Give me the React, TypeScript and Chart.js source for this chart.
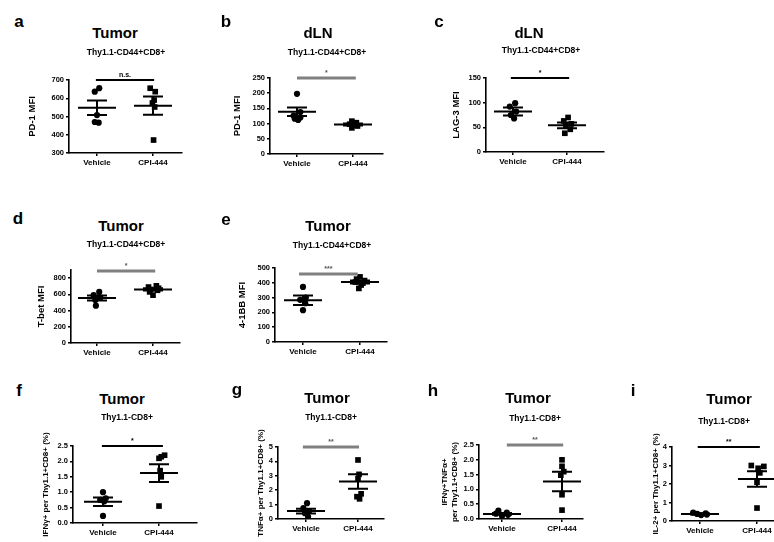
import React, { useEffect, useRef } from 'react';
import { Chart, registerables } from 'chart.js';

Chart.register(...registerables);
Chart.defaults.font.family = '"Liberation Sans", Arial, sans-serif';

const groups = ['Vehicle', 'CPI-444'];

// ---- a: Tumor PD-1 MFI
const aVehicle = [655, 636, 508, 470, 466];
const aVehicleJitter = [0.04, -0.04, 0, -0.04, 0.03];
const aCpi = [655, 636, 590, 574, 552, 371];
const aCpiJitter = [-0.05, 0.04, 0.02, -0.01, 0.03, 0.01];
const aMean = [548, 559];
const aSem = [40, 50];
const aYTicks = [300, 400, 500, 600, 700];

// ---- b: dLN PD-1 MFI
const bVehicle = [198, 138, 126, 120, 116, 112];
const bVehicleJitter = [0, 0.06, -0.06, 0.06, -0.04, 0.02];
const bCpi = [108, 103, 98, 95, 92, 86];
const bCpiJitter = [-0.02, 0.06, -0.06, 0.04, 0.08, -0.02];
const bMean = [139, 97];
const bSem = [14, 3.5];
const bYTicks = [0, 50, 100, 150, 200, 250];

// ---- c: dLN LAG-3 MFI
const cVehicle = [99, 92, 82, 75, 68];
const cVehicleJitter = [0.04, -0.06, 0.06, -0.04, 0.02];
const cCpi = [70, 63, 57, 53, 46, 38];
const cCpiJitter = [0.02, -0.06, 0.08, -0.02, 0.06, -0.04];
const cMean = [82, 54];
const cSem = [8, 6];
const cYTicks = [0, 50, 100, 150];

// ---- d: Tumor T-bet MFI
const dVehicle = [630, 590, 560, 530, 460];
const dVehicleJitter = [0.04, -0.06, 0.06, -0.03, -0.02];
const dCpi = [705, 690, 675, 660, 650, 630, 590];
const dCpiJitter = [0.06, -0.08, 0.1, -0.04, 0.08, -0.06, 0];
const dMean = [555, 660];
const dSem = [32, 14];
const dYTicks = [0, 200, 400, 600, 800];

// ---- e: Tumor 4-1BB MFI
const eVehicle = [372, 300, 285, 262, 215];
const eVehicleJitter = [0, 0.05, -0.05, 0.04, 0];
const eCpi = [440, 425, 415, 405, 398, 385, 362];
const eCpiJitter = [0, -0.06, 0.08, -0.08, 0.05, 0.02, -0.02];
const eMean = [282, 405];
const eSem = [32, 10];
const eYTicks = [0, 100, 200, 300, 400, 500];

// ---- f: Tumor IFNg+ %
const fVehicle = [1.0, 0.8, 0.75, 0.7, 0.23];
const fVehicleJitter = [0, 0.05, -0.05, 0.02, 0];
const fCpi = [2.2, 2.15, 2.1, 1.7, 1.5, 0.55];
const fCpiJitter = [0.1, 0.04, 0, 0.02, 0.04, 0];
const fMean = [0.69, 1.62];
const fSem = [0.14, 0.29];
const fYTicks = [0, 0.5, 1.0, 1.5, 2.0, 2.5];

// ---- g: Tumor TNFa+ %
const gVehicle = [1.1, 0.75, 0.55, 0.4, 0.15];
const gVehicleJitter = [0.02, -0.05, 0.06, -0.02, 0.04];
const gCpi = [4.1, 3.1, 2.8, 1.75, 1.55, 1.4];
const gCpiJitter = [0, 0.02, 0, 0.06, -0.02, 0.03];
const gMean = [0.55, 2.6];
const gSem = [0.17, 0.5];
const gYTicks = [0, 1, 2, 3, 4, 5];

// ---- h: Tumor IFNg+TNFa+ %
const hVehicle = [0.28, 0.22, 0.18, 0.14, 0.1];
const hVehicleJitter = [-0.06, 0.08, -0.1, 0.1, 0];
const hCpi = [2.0, 1.78, 1.6, 1.48, 0.82, 0.3];
const hCpiJitter = [0, 0, 0.03, -0.02, 0, 0];
const hMean = [0.17, 1.27];
const hSem = [0.03, 0.33];
const hYTicks = [0, 0.5, 1.0, 1.5, 2.0, 2.5];

// ---- i: Tumor IL-2+ %
const iVehicle = [0.45, 0.42, 0.38, 0.35, 0.32];
const iVehicleJitter = [-0.12, 0.1, -0.05, 0.12, 0.02];
const iCpi = [3.0, 2.95, 2.85, 2.6, 2.1, 0.7];
const iCpiJitter = [-0.1, 0.12, 0.02, 0.05, 0, 0];
const iMean = [0.38, 2.27];
const iSem = [0.03, 0.42];
const iYTicks = [0, 1, 2, 3, 4];

const BLACK = '#000000';
const GRAY = '#808080';

type Panel = {
  letter: string; title: string; subtitle: string; yTitle: string | string[]; yTitleSize: number;
  veh: number[]; vehJ: number[]; cpi: number[]; cpiJ: number[];
  mean: number[]; sem: number[]; yTicks: number[]; yMin: number; yMax: number; dec: number;
  sig: string; sigY: number; sigColor: string; sigX: [number, number];
  plot: { l: number; t: number; r: number; b: number }; vehX: number; cpiX: number;
  yTitleX: number; titleX: number; titleY: number; subX: number; subY: number; letterX: number; letterY: number;
};

const SUB1 = 'Thy1.1-CD44+CD8+';
const SUB2 = 'Thy1.1-CD8+';

const panels: Panel[] = [
  { letter: 'a', title: 'Tumor', subtitle: SUB1, yTitle: 'PD-1 MFI', yTitleSize: 9.5, veh: aVehicle, vehJ: aVehicleJitter, cpi: aCpi, cpiJ: aCpiJitter, mean: aMean, sem: aSem, yTicks: aYTicks, yMin: 300, yMax: 700, dec: 0,
    sig: 'n.s.', sigY: 700, sigColor: BLACK, sigX: [0.98, 2.02], plot: { l: 69, t: 80, r: 182, b: 153 }, vehX: 97, cpiX: 153,
    yTitleX: 33, titleX: 115, titleY: 32, subX: 126, subY: 52, letterX: 19, letterY: 21 },
  { letter: 'b', title: 'dLN', subtitle: SUB1, yTitle: 'PD-1 MFI', yTitleSize: 9.5, veh: bVehicle, vehJ: bVehicleJitter, cpi: bCpi, cpiJ: bCpiJitter, mean: bMean, sem: bSem, yTicks: bYTicks, yMin: 0, yMax: 250, dec: 0,
    sig: '*', sigY: 250, sigColor: GRAY, sigX: [1.0, 2.05], plot: { l: 270, t: 78, r: 383, b: 154 }, vehX: 297, cpiX: 353,
    yTitleX: 238, titleX: 318, titleY: 32, subX: 327, subY: 52, letterX: 226, letterY: 21 },
  { letter: 'c', title: 'dLN', subtitle: SUB1, yTitle: 'LAG-3 MFI', yTitleSize: 9.5, veh: cVehicle, vehJ: cVehicleJitter, cpi: cCpi, cpiJ: cCpiJitter, mean: cMean, sem: cSem, yTicks: cYTicks, yMin: 0, yMax: 150, dec: 0,
    sig: '*', sigY: 150, sigColor: BLACK, sigX: [0.96, 2.04], plot: { l: 486, t: 78, r: 604, b: 152 }, vehX: 513, cpiX: 567,
    yTitleX: 457, titleX: 529, titleY: 32, subX: 541, subY: 50, letterX: 439, letterY: 21 },
  { letter: 'd', title: 'Tumor', subtitle: SUB1, yTitle: 'T-bet MFI', yTitleSize: 9.5, veh: dVehicle, vehJ: dVehicleJitter, cpi: dCpi, cpiJ: dCpiJitter, mean: dMean, sem: dSem, yTicks: dYTicks, yMin: 0, yMax: 900, dec: 0,
    sig: '*', sigY: 888, sigColor: GRAY, sigX: [1.0, 2.04], plot: { l: 71, t: 270, r: 180, b: 343 }, vehX: 97, cpiX: 153,
    yTitleX: 42, titleX: 121, titleY: 225, subX: 126, subY: 244, letterX: 18, letterY: 218 },
  { letter: 'e', title: 'Tumor', subtitle: SUB1, yTitle: '4-1BB MFI', yTitleSize: 9.5, veh: eVehicle, vehJ: eVehicleJitter, cpi: eCpi, cpiJ: eCpiJitter, mean: eMean, sem: eSem, yTicks: eYTicks, yMin: 0, yMax: 500, dec: 0,
    sig: '***', sigY: 459, sigColor: GRAY, sigX: [0.93, 1.96], plot: { l: 275, t: 268, r: 387, b: 342 }, vehX: 303, cpiX: 360,
    yTitleX: 243, titleX: 328, titleY: 225, subX: 332, subY: 245, letterX: 226, letterY: 219 },
  { letter: 'f', title: 'Tumor', subtitle: SUB2, yTitle: 'IFNγ+ per Thy1.1+CD8+ (%)', yTitleSize: 8, veh: fVehicle, vehJ: fVehicleJitter, cpi: fCpi, cpiJ: fCpiJitter, mean: fMean, sem: fSem, yTicks: fYTicks, yMin: 0, yMax: 2.5, dec: 1,
    sig: '*', sigY: 2.5, sigColor: BLACK, sigX: [0.98, 2.07], plot: { l: 73, t: 446, r: 197, b: 523 }, vehX: 103, cpiX: 159,
    yTitleX: 46, titleX: 122, titleY: 398, subX: 127, subY: 417, letterX: 19, letterY: 390 },
  { letter: 'g', title: 'Tumor', subtitle: SUB2, yTitle: 'TNFα+ per Thy1.1+CD8+ (%)', yTitleSize: 8, veh: gVehicle, vehJ: gVehicleJitter, cpi: gCpi, cpiJ: gCpiJitter, mean: gMean, sem: gSem, yTicks: gYTicks, yMin: 0, yMax: 5, dec: 0,
    sig: '**', sigY: 5, sigColor: GRAY, sigX: [0.94, 2.02], plot: { l: 278, t: 447, r: 384, b: 519 }, vehX: 306, cpiX: 358,
    yTitleX: 261, titleX: 327, titleY: 397, subX: 331, subY: 417, letterX: 237, letterY: 389 },
  { letter: 'h', title: 'Tumor', subtitle: SUB2, yTitle: ['IFNγ+TNFα+', 'per Thy1.1+CD8+ (%)'], yTitleSize: 8, veh: hVehicle, vehJ: hVehicleJitter, cpi: hCpi, cpiJ: hCpiJitter, mean: hMean, sem: hSem, yTicks: hYTicks, yMin: 0, yMax: 2.5, dec: 1,
    sig: '**', sigY: 2.5, sigColor: GRAY, sigX: [1.08, 2.02], plot: { l: 479, t: 445, r: 583, b: 519 }, vehX: 502, cpiX: 562,
    yTitleX: 445, titleX: 528, titleY: 397, subX: 535, subY: 418, letterX: 433, letterY: 390 },
  { letter: 'i', title: 'Tumor', subtitle: SUB2, yTitle: 'IL-2+ per Thy1.1+CD8+ (%)', yTitleSize: 8, veh: iVehicle, vehJ: iVehicleJitter, cpi: iCpi, cpiJ: iCpiJitter, mean: iMean, sem: iSem, yTicks: iYTicks, yMin: 0, yMax: 4, dec: 0,
    sig: '**', sigY: 4, sigColor: BLACK, sigX: [0.96, 2.05], plot: { l: 672, t: 447, r: 800, b: 521 }, vehX: 700, cpiX: 757,
    yTitleX: 656, titleX: 729, titleY: 398, subX: 724, subY: 421, letterX: 633, letterY: 390 },
];

const PAD_T = 26;
const PAD_R = 4;
const X_H = 24;
const MEAN_HALF = 19;
const CAP_HALF = 10;

const overlayPlugin = {
  id: 'overlay',
  afterDatasetsDraw(chart: any, _args: any, opts: any) {
    const p: Panel = opts.panel;
    if (!p) return;
    const { ctx } = chart;
    const x = chart.scales.x;
    const y = chart.scales.y;
    ctx.save();
    ctx.strokeStyle = BLACK;
    ctx.lineWidth = 2;
    ctx.lineCap = 'butt';
    p.mean.forEach((m, i) => {
      const cx = x.getPixelForValue(i + 1);
      const ym = y.getPixelForValue(m);
      const yt = y.getPixelForValue(m + p.sem[i]);
      const yb = y.getPixelForValue(m - p.sem[i]);
      ctx.beginPath();
      ctx.moveTo(cx - MEAN_HALF, ym); ctx.lineTo(cx + MEAN_HALF, ym);
      ctx.moveTo(cx - CAP_HALF, yt); ctx.lineTo(cx + CAP_HALF, yt);
      ctx.moveTo(cx - CAP_HALF, yb); ctx.lineTo(cx + CAP_HALF, yb);
      ctx.moveTo(cx, yt); ctx.lineTo(cx, yb);
      ctx.stroke();
    });
    const sy = y.getPixelForValue(p.sigY);
    const sx1 = x.getPixelForValue(p.sigX[0]);
    const sx2 = x.getPixelForValue(p.sigX[1]);
    ctx.strokeStyle = p.sigColor;
    ctx.lineWidth = p.sigColor === GRAY ? 3 : 2;
    ctx.beginPath();
    ctx.moveTo(sx1, sy); ctx.lineTo(sx2, sy);
    ctx.stroke();
    ctx.fillStyle = p.sigColor === GRAY ? '#555' : BLACK;
    ctx.font = 'bold 7px "Liberation Sans", Arial, sans-serif';
    ctx.textAlign = 'center';
    ctx.textBaseline = 'alphabetic';
    ctx.fillText(p.sig, (sx1 + sx2) / 2, sy - 3);
    ctx.restore();
  },
};

function PanelChart({ p }: { p: Panel }) {
  const ref = useRef<HTMLCanvasElement>(null);
  const lh = p.yTitleSize * 1.2;
  const left = Math.round(p.yTitleX - lh / 2);
  const yW = p.plot.l - left;
  const W = yW + (p.plot.r - p.plot.l) + PAD_R;
  const top = p.plot.t - PAD_T;
  const H = PAD_T + (p.plot.b - p.plot.t) + X_H;
  const unit = p.cpiX - p.vehX;
  const xMin = 1 - (p.vehX - p.plot.l) / unit;
  const xMax = 2 + (p.plot.r - p.cpiX) / unit;

  useEffect(() => {
    if (!ref.current) return;
    const axisCommon = {
      grid: { display: true, drawOnChartArea: false, drawTicks: true, tickLength: 3, color: BLACK, lineWidth: 1.5 },
      border: { display: true, color: BLACK, width: 1.6 },
    };
    const chart = new Chart(ref.current, {
      type: 'scatter',
      data: {
        datasets: [
          {
            data: p.veh.map((v, i) => ({ x: 1 + p.vehJ[i], y: v })),
            pointStyle: 'circle', pointRadius: 3.1, backgroundColor: BLACK, borderColor: BLACK, borderWidth: 0,
          },
          {
            data: p.cpi.map((v, i) => ({ x: 2 + p.cpiJ[i], y: v })),
            pointStyle: 'rect', pointRadius: 4, backgroundColor: BLACK, borderColor: BLACK, borderWidth: 0,
          },
        ],
      },
      options: {
        responsive: false,
        animation: false,
        events: [],
        layout: { padding: { top: PAD_T, right: PAD_R, left: 0, bottom: 0 } },
        plugins: {
          legend: { display: false },
          tooltip: { enabled: false },
          overlay: { panel: p },
        } as any,
        scales: {
          x: {
            type: 'linear', min: xMin, max: xMax,
            afterBuildTicks: (s: any) => { s.ticks = [{ value: 1 }, { value: 2 }]; },
            afterFit: (s: any) => { s.height = X_H; },
            ticks: {
              callback: (v: any) => (v === 1 ? groups[0] : groups[1]),
              font: { size: 8, weight: 'bold' }, color: BLACK, padding: 2, autoSkip: false, maxRotation: 0,
            },
            ...axisCommon,
          },
          y: {
            type: 'linear', min: p.yMin, max: p.yMax,
            afterBuildTicks: (s: any) => { s.ticks = p.yTicks.map((v) => ({ value: v })); },
            afterFit: (s: any) => { s.width = yW; },
            ticks: {
              callback: (v: any) => Number(v).toFixed(p.dec),
              font: { size: 7.5, weight: 'bold' }, color: BLACK, padding: 2, autoSkip: false,
            },
            title: { display: true, text: p.yTitle, font: { size: p.yTitleSize, weight: 'bold' }, color: BLACK, padding: 0 },
            ...axisCommon,
          },
        },
      } as any,
      plugins: [overlayPlugin],
    });
    return () => chart.destroy();
  }, []);

  return (
    <canvas ref={ref} width={W} height={H}
      style={{ position: 'absolute', left, top, width: W, height: H }} />
  );
}

function Label({ x, y, text, size }: { x: number; y: number; text: string; size: number }) {
  return (
    <div style={{
      position: 'absolute', left: x, top: y, transform: 'translate(-50%, -50%)',
      fontSize: size, lineHeight: 1, fontWeight: 'bold', whiteSpace: 'nowrap',
      fontFamily: '"Liberation Sans", Arial, sans-serif', color: '#000',
    }}>{text}</div>
  );
}

export default function App() {
  return (
    <div style={{ position: 'absolute', left: 0, top: 0, width: 774, height: 542, overflow: 'hidden', background: '#fff' }}>
      {panels.map((p) => (
        <React.Fragment key={p.letter}>
          <PanelChart p={p} />
          <Label x={p.letterX} y={p.letterY} text={p.letter} size={17} />
          <Label x={p.titleX} y={p.titleY} text={p.title} size={15} />
          <Label x={p.subX} y={p.subY} text={p.subtitle} size={8.5} />
        </React.Fragment>
      ))}
    </div>
  );
}
